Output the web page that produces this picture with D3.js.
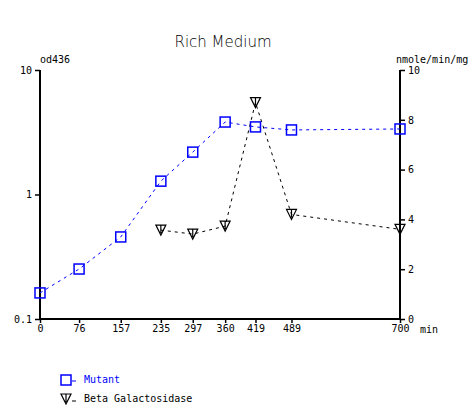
<!DOCTYPE html>
<html><head><meta charset="utf-8">
<script src="https://cdn.jsdelivr.net/npm/d3@7/dist/d3.min.js"></script>
<style>body{margin:0;background:#fff}svg{display:block}</style>
</head><body>
<script>
const times = [0, 76, 157, 235, 297, 360, 419, 489, 700];
const mutantTimes = [0, 76, 157, 235, 297, 360, 419, 489, 700];
const mutantOD = [0.162, 0.252, 0.456, 1.28, 2.19, 3.82, 3.49, 3.30, 3.36];
const betaTimes = [235, 297, 360, 419, 489, 700];
const betaGal = [3.57, 3.41, 3.73, 8.69, 4.2, 3.6];
const leftTicks = [0.1, 1, 10];
const leftTickLabels = ["0.1", "1", "10"];
const rightTicks = [0, 2, 4, 6, 8, 10];

const W = 472, H = 405;
const L = 40, R = 400, T = 70, B = 319;
const mono = "'DejaVu Sans Mono', monospace";
const svg = d3.select("body").append("svg").attr("width", W).attr("height", H);

const x = d3.scaleLinear().domain([0, 700]).range([L, R]);
const yL = d3.scaleLog().domain([0.1, 10]).range([B, T]);
const yR = d3.scaleLinear().domain([0, 10]).range([B, T]);

svg.append("text").attr("x", 223).attr("y", 47).attr("text-anchor", "middle")
  .attr("font-family", "'DejaVu Sans', sans-serif").attr("font-weight", 300)
  .attr("fill", "#000").attr("font-size", 15).text("Rich Medium");

// axes
const ax = g => g.selectAll("text").attr("font-family", mono).attr("font-size", 10).attr("fill", "#000");
const gx = svg.append("g").attr("transform", `translate(0,${B})`)
  .call(d3.axisBottom(x).tickValues(times).tickSize(4).tickPadding(2).tickFormat(d3.format("d")));
gx.select(".domain").attr("stroke-width", 2).attr("d", `M${L},0H${R}`);
ax(gx);
const gl = svg.append("g").attr("transform", `translate(${L},0)`)
  .call(d3.axisLeft(yL).tickValues(leftTicks).tickSize(5).tickPadding(3).tickFormat((d, i) => leftTickLabels[i]));
gl.select(".domain").attr("stroke-width", 2).attr("d", `M0,${T}V${B}`);
ax(gl);
const gr = svg.append("g").attr("transform", `translate(${R},0)`)
  .call(d3.axisRight(yR).tickValues(rightTicks).tickSize(5).tickPadding(3).tickFormat(d3.format("d")));
gr.select(".domain").attr("stroke-width", 2).attr("d", `M0,${T}V${B}`);
ax(gr);
svg.selectAll(".tick line").attr("stroke", "#000").attr("stroke-width", 1.5);

svg.append("text").attr("x", 420).attr("y", 333).attr("font-family", mono).attr("font-size", 10).text("min");
svg.append("text").attr("x", 40).attr("y", 63).attr("font-family", mono).attr("font-size", 10).text("od436");
svg.append("text").attr("x", 396).attr("y", 63).attr("font-family", mono).attr("font-size", 10).text("nmole/min/mg");

// lines
const mutant = mutantTimes.map((t, i) => [t, mutantOD[i]]);
const beta = betaTimes.map((t, i) => [t, betaGal[i]]);
svg.append("path").datum(mutant).attr("fill", "none").attr("stroke", "#0000ff").attr("stroke-width", 1)
  .attr("stroke-dasharray", "3,4").attr("d", d3.line().x(d => x(d[0])).y(d => yL(d[1])));
svg.append("path").datum(beta).attr("fill", "none").attr("stroke", "#000").attr("stroke-width", 1)
  .attr("stroke-dasharray", "3,4").attr("d", d3.line().x(d => x(d[0])).y(d => yR(d[1])));

function square(g, cx, cy) {
  g.append("rect").attr("x", cx - 5).attr("y", cy - 5).attr("width", 10).attr("height", 10)
    .attr("fill", "none").attr("stroke", "#0000ff").attr("stroke-width", 1.5);
}
function tri(g, cx, cy) {
  g.append("path").attr("d", `M${cx - 5},${cy - 5}H${cx + 5}L${cx},${cy + 5}Z M${cx},${cy - 5}V${cy + 3}`)
    .attr("fill", "none").attr("stroke", "#000").attr("stroke-width", 1.2);
}
mutant.forEach(d => square(svg, x(d[0]), yL(d[1])));
beta.forEach(d => tri(svg, x(d[0]), yR(d[1])));

// legend
square(svg, 66, 380);
svg.append("path").attr("d", "M72,381H76").attr("stroke", "#0000ff");
svg.append("text").attr("x", 84).attr("y", 383).attr("font-family", mono).attr("font-size", 10).attr("fill", "#0000ff").text("Mutant");
tri(svg, 66, 399);
svg.append("path").attr("d", "M72,401H76").attr("stroke", "#000");
svg.append("text").attr("x", 84).attr("y", 402).attr("font-family", mono).attr("font-size", 10).attr("fill", "#000").text("Beta Galactosidase");
</script>
</body></html>
